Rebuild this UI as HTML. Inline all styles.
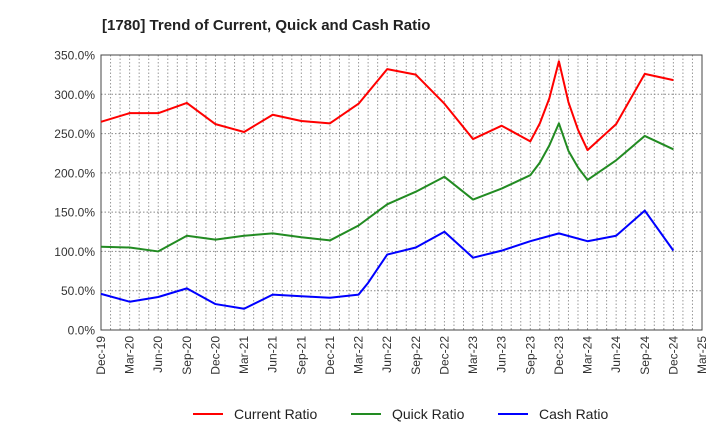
<!DOCTYPE html>
<html><head><meta charset="utf-8"><style>
body{margin:0;background:#fff;font-family:"Liberation Sans",sans-serif}
svg text{font-family:"Liberation Sans",sans-serif}
</style></head><body>
<svg id="c" width="720" height="440" xmlns="http://www.w3.org/2000/svg">
<text x="102" y="30" font-size="15" font-weight="bold" fill="#222">[1780]  Trend of Current, Quick and Cash Ratio</text>
<g id="grid"></g><g id="axes"></g><g id="lines"></g>
<g>
<line x1="193" y1="414" x2="223" y2="414" stroke="#f00" stroke-width="2"/>
<text x="234" y="419" font-size="14" fill="#222">Current Ratio</text>
<line x1="351" y1="414" x2="381" y2="414" stroke="#228b22" stroke-width="2"/>
<text x="392" y="419" font-size="14" fill="#222">Quick Ratio</text>
<line x1="498" y1="414" x2="528" y2="414" stroke="#00f" stroke-width="2"/>
<text x="539" y="419" font-size="14" fill="#222">Cash Ratio</text>
</g>
</svg>
<script>
const tickLabels=["Dec-19","Mar-20","Jun-20","Sep-20","Dec-20","Mar-21","Jun-21","Sep-21","Dec-21","Mar-22","Jun-22","Sep-22","Dec-22","Mar-23","Jun-23","Sep-23","Dec-23","Mar-24","Jun-24","Sep-24","Dec-24","Mar-25"];
const yTicks=[0,50,100,150,200,250,300,350];
// month index from Dec-19
const currentMonths=[0,3,6,9,12,15,18,21,24,27,30,33,36,39,42,45,46,47,48,49,50,51,54,57,60];
const currentVals=[265,276,276,289,262,252,274,266,263,288,332,325,288,243,260,240,263,295,342,290,255,229,262,326,318];
const quickMonths=[0,3,6,9,12,15,18,21,24,27,30,33,36,39,42,45,46,47,48,49,50,51,54,57,60];
const quickVals=[106,105,100,120,115,120,123,118,114,133,160,176,195,166,180,197,213,235,263,228,207,191,216,247,230];
const cashMonths=[0,3,6,9,12,15,18,21,24,27,28,29,30,33,36,39,42,45,48,51,54,57,60];
const cashVals=[46,36,42,53,33,27,45,43,41,45,60,78,96,105,125,92,101,113,123,113,120,152,101];
const X0=101,X1=702,Y0=330,Y1=55;
const x=m=>X0+(X1-X0)*m/63;
const y=v=>Y0-(Y0-Y1)*v/350;
const NS="http://www.w3.org/2000/svg";
function mk(t,a,p){const e=document.createElementNS(NS,t);for(const k in a)e.setAttribute(k,a[k]);p.appendChild(e);return e;}
const g=document.getElementById('grid'),ax=document.getElementById('axes'),ln=document.getElementById('lines');
for(let m=1;m<63;m++){const e=mk('line',{x1:x(m),x2:x(m),y1:Y1,y2:Y0,stroke:'#999','stroke-dasharray':'1.5,2','stroke-width':1},g);

}
yTicks.forEach(v=>{if(v>0&&v<350){const e=mk('line',{x1:X0,x2:X1,y1:y(v),y2:y(v),stroke:'#888','stroke-dasharray':'1.5,2','stroke-width':1},g);

}
const t=mk('text',{x:X0-6,y:y(v)+4.5,'text-anchor':'end','font-size':12,fill:'#333'},ax);t.textContent=v.toFixed(1)+'%';

});
const fr=mk('rect',{x:X0,y:Y1,width:X1-X0,height:Y0-Y1,fill:'none',stroke:'#444','stroke-width':1},ax);


tickLabels.forEach((l,i)=>{const xx=x(i*3)+4;const t=mk('text',{x:0,y:0,'text-anchor':'end','font-size':12,fill:'#333',transform:`translate(${xx},336) rotate(-90)`},ax);t.textContent=l;

});
function series(ms,vs,c,name){const p=mk('polyline',{points:ms.map((m,i)=>x(m)+','+y(vs[i])).join(' '),fill:'none',stroke:c,'stroke-width':2,'stroke-linejoin':'round'},ln);

}
series(currentMonths,currentVals,'#f00','current-ratio-line');
series(quickMonths,quickVals,'#228b22','quick-ratio-line');
series(cashMonths,cashVals,'#00f','cash-ratio-line');
</script>
</body></html>
